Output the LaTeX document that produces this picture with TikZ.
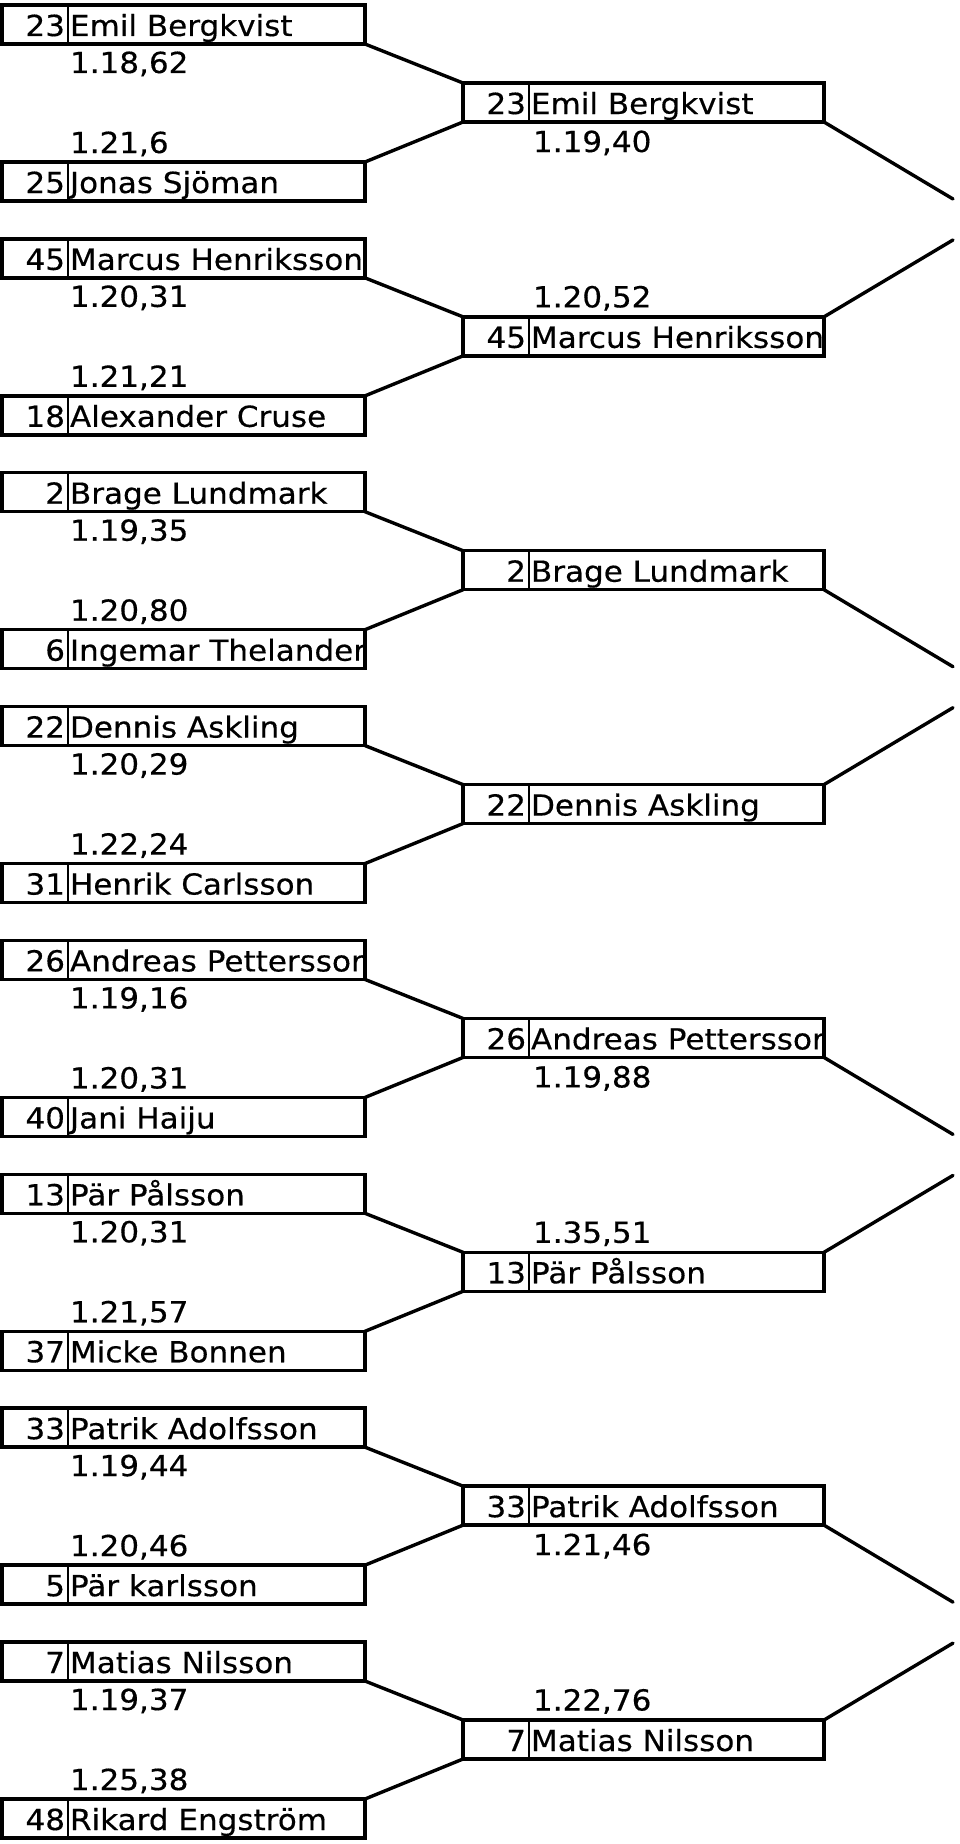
\documentclass[tikz,border=0pt]{standalone}
\usepackage{fontspec}
\setmainfont[FakeStretch=1.07,FakeBold=0.4]{DejaVu Sans}
\tikzset{
  ebox/.style={draw, line width=3.4pt, rectangle, inner sep=0pt, outer sep=0pt, minimum height=39pt},
  divline/.style={line width=2.8pt},
  conn/.style={line width=3.4pt, line cap=round},
  txt/.style={inner sep=0pt, outer sep=0pt, font=\fontsize{29}{31}\selectfont},
}
% #1 node name, #2 left x, #3 top y, #4 width, #5 number, #6 text
\newcommand\entrybox[6]{%
  \node[ebox, minimum width=#4pt] (#1) at ({#2+#4/2},{#3+19.5}) {};
  \draw[divline] ({#2+66},{#3}) -- ({#2+66},{#3+39});
  \node[txt, anchor=base east] (#1n) at ({#2+63},{#3+31}) {#5};
  \begin{scope}
    \clip ({#2+66},{#3}) rectangle ({#2+#4},{#3+39});
    \node[txt, anchor=base west] (#1t) at ({#2+68},{#3+31}) {#6};
  \end{scope}
}
% first round pair: #1 k, #2 num a, #3 name a, #4 time a, #5 time b, #6 num b, #7 name b
\newcommand\roundone[7]{%
  \pgfmathsetmacro\dd{#1*233.857}%
  \pgfmathsetmacro\ya{5+\dd}%
  \pgfmathsetmacro\yb{162+\dd}%
  \entrybox{a#1}{2}{\ya}{363}{#2}{#3}
  \entrybox{b#1}{2}{\yb}{363}{#6}{#7}
  \node[txt, anchor=base west] (ta#1) at (70,{73+\dd}) {#4};
  \node[txt, anchor=base west] (tb#1) at (70,{153+\dd}) {#5};
}
% second round: #1 k, #2 num, #3 name
\newcommand\roundtwo[3]{%
  \pgfmathsetmacro\dd{#1*233.857}%
  \pgfmathsetmacro\yw{83+\dd}%
  \entrybox{w#1}{463}{\yw}{361}{#2}{#3}
  \draw[conn] (a#1.south east) -- (w#1.north west);
  \draw[conn] (b#1.north east) -- (w#1.south west);
}
\newcommand\timebelow[2]{%
  \pgfmathsetmacro\dd{#1*233.857}%
  \node[txt, anchor=base west] (tw#1) at (533,{152+\dd}) {#2};
}
\newcommand\timeabove[2]{%
  \pgfmathsetmacro\dd{#1*233.857}%
  \node[txt, anchor=base west] (tw#1) at (533,{73.5+\dd}) {#2};
}
\newcommand\outdown[1]{%
  \pgfmathsetmacro\dd{#1*233.857}%
  \coordinate (e#1) at (953,{199+\dd});
  \draw[conn] (w#1.south east) -- (e#1);
}
\newcommand\outup[1]{%
  \pgfmathsetmacro\dd{#1*233.857}%
  \coordinate (e#1) at (953,{6.1+\dd});
  \draw[conn] (w#1.north east) -- (e#1);
}
\begin{document}
\begin{tikzpicture}[x=1pt,y=-1pt]
  \useasboundingbox (0,0) rectangle (960,1844);
  \fill[white] (0,0) rectangle (960,1844);

  \roundone{0}{23}{Emil Bergkvist}{1.18,62}{1.21,6}{25}{Jonas Sjöman}
  \roundone{1}{45}{Marcus Henriksson}{1.20,31}{1.21,21}{18}{Alexander Cruse}
  \roundone{2}{2}{Brage Lundmark}{1.19,35}{1.20,80}{6}{Ingemar Thelander}
  \roundone{3}{22}{Dennis Askling}{1.20,29}{1.22,24}{31}{Henrik Carlsson}
  \roundone{4}{26}{Andreas Pettersson}{1.19,16}{1.20,31}{40}{Jani Haiju}
  \roundone{5}{13}{Pär Pålsson}{1.20,31}{1.21,57}{37}{Micke Bonnen}
  \roundone{6}{33}{Patrik Adolfsson}{1.19,44}{1.20,46}{5}{Pär karlsson}
  \roundone{7}{7}{Matias Nilsson}{1.19,37}{1.25,38}{48}{Rikard Engström}

  \roundtwo{0}{23}{Emil Bergkvist}
  \roundtwo{1}{45}{Marcus Henriksson}
  \roundtwo{2}{2}{Brage Lundmark}
  \roundtwo{3}{22}{Dennis Askling}
  \roundtwo{4}{26}{Andreas Pettersson}
  \roundtwo{5}{13}{Pär Pålsson}
  \roundtwo{6}{33}{Patrik Adolfsson}
  \roundtwo{7}{7}{Matias Nilsson}

  \timebelow{0}{1.19,40}
  \timeabove{1}{1.20,52}
  \timebelow{4}{1.19,88}
  \timeabove{5}{1.35,51}
  \timebelow{6}{1.21,46}
  \timeabove{7}{1.22,76}

  \outdown{0}
  \outup{1}
  \outdown{2}
  \outup{3}
  \outdown{4}
  \outup{5}
  \outdown{6}
  \outup{7}
\end{tikzpicture}
\end{document}
